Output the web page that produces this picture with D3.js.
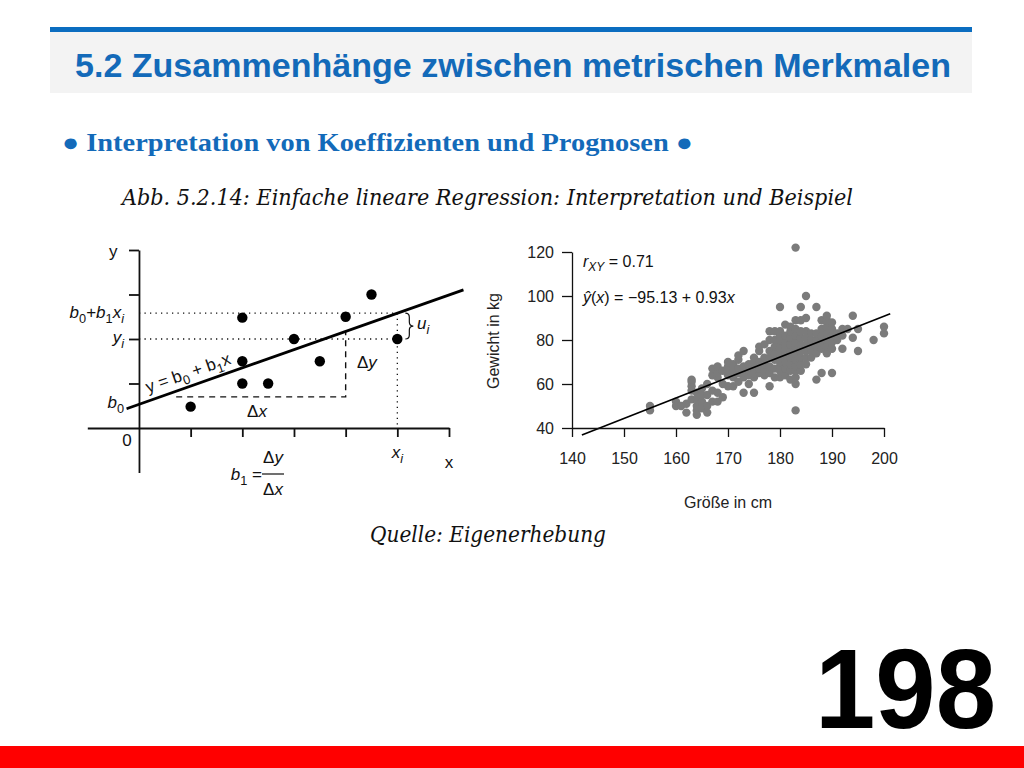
<!DOCTYPE html>
<html>
<head>
<meta charset="utf-8">
<script src="https://d3js.org/d3.v7.min.js"></script>
<style>
  body { margin: 0; background: #fff; }
  text { font-family: "Liberation Sans", Arial, sans-serif; }
</style>
</head>
<body>
<script>
// ---- texts ----
var titel = "5.2 Zusammenhänge zwischen metrischen Merkmalen";
var untertitel = "● Interpretation von Koeffizienten und Prognosen ●";
var abbildung = "Abb. 5.2.14: Einfache lineare Regression: Interpretation und Beispiel";
var quelle = "Quelle: Eigenerhebung";
var seite = "198";

// ---- left diagram (schematic) ----
var punkteX = [1, 2, 2.5, 2, 2, 3, 3.5, 4, 4.5, 5];
var punkteY = [0.48, 1, 1, 1.5, 2.48, 2, 1.5, 2.5, 3, 2];
var b0 = 0.53, b1 = 0.41;
var xi = 5, yi = 2;
var linieVon = -0.24, linieBis = 6.28;
var dreieckX = [0.72, 4], dreieckY = 0.7;
var xTicksL = [1, 2, 3, 4, 5, 6];
var yTicksL = [1, 2, 3, 4];

// ---- right diagram (Größe / Gewicht) ----
var groesse = [155,160,161,162,163,164,165,166,167,168,169,170,171,172,173,174,175,176,177,178,179,
               180,181,182,183,184,185,186,187,188,189,190,191,192,193,194,195,198,200];
var gewicht = [
  [48,50], [50,52], [50], [47,51], [53,57,59,61,62], [46,48,50,53,56], [49,52,55,58], [47,50,55,60],
  [52,57,64,67], [52,56,63,65,68], [54,60,66], [59,64,66,68,70], [59,63,66,69], [61,65,67,71,73],
  [56,63,65,68,75], [60,64,66,69], [56,63,65,67,70,72], [65,67,70,75,77], [64,66,69,72,78],
  [59,65,68,72,75,80,84], [63,67,71,74,77,80,84],
  [63,66,68,70,72,74,76,78,80,82,84,95], [64,67,70,73,76,79,82,87], [62,66,69,72,75,78,81,84,86],
  [48,60,63,66,68,71,74,77,79,82,85,89,122], [66,69,72,75,78,81,84,89,95], [69,72,75,78,81,84,90,100],
  [72,75,78,80,83], [62,74,77,80,83,95], [65,76,79,82,85,89], [74,77,80,83,86,89,91], [65,76,79,82,85,88],
  [80,83], [76,82,85], [85], [81,91], [75,85], [80], [83,86]
];
var achseX = [140, 150, 160, 170, 180, 190, 200];
var achseY = [40, 60, 80, 100, 120];
var achsenAbschnitt = -95.13, steigung = 0.93;
var regVon = 141.9, regBis = 201.2;

var svg = d3.select("body").append("svg").attr("width", 1024).attr("height", 768);

// header
svg.append("rect").attr("x", 50).attr("y", 27).attr("width", 922).attr("height", 5).attr("fill", "#0b6dc0");
svg.append("rect").attr("x", 50).attr("y", 32).attr("width", 922).attr("height", 61).attr("fill", "#f3f3f3");
svg.append("text").attr("x", 75).attr("y", 77).attr("font-size", 33).attr("font-weight", "bold")
  .attr("fill", "#136ab9").attr("textLength", 876).attr("lengthAdjust", "spacingAndGlyphs").text(titel);
svg.append("text").attr("x", 62).attr("y", 151).attr("font-size", 25).attr("font-weight", "bold")
  .style("font-family", "'Liberation Serif', 'Times New Roman', serif")
  .attr("fill", "#136ab9").attr("textLength", 631).attr("lengthAdjust", "spacingAndGlyphs").text(untertitel);
svg.append("text").attr("x", 122).attr("y", 205).attr("font-size", 22).attr("font-style", "italic")
  .style("font-family", "'DejaVu Serif', 'Liberation Serif', serif")
  .attr("fill", "#111").attr("textLength", 731).attr("lengthAdjust", "spacingAndGlyphs").text(abbildung);
svg.append("text").attr("x", 370).attr("y", 542).attr("font-size", 22).attr("font-style", "italic")
  .style("font-family", "'DejaVu Serif', 'Liberation Serif', serif")
  .attr("fill", "#111").attr("textLength", 236).attr("lengthAdjust", "spacingAndGlyphs").text(quelle);
svg.append("text").attr("x", 815).attr("y", 728).attr("font-size", 113).attr("font-weight", "bold")
  .attr("fill", "#000").attr("textLength", 181).attr("lengthAdjust", "spacingAndGlyphs").text(seite);
svg.append("rect").attr("x", 0).attr("y", 746).attr("width", 1024).attr("height", 22).attr("fill", "#ff0000");

// text with italic / subscript parts: [text, flags] flags: i = italic, s = subscript
function formel(parent, x, y, teile, anchor, size) {
  var t = parent.append("text").attr("x", x).attr("y", y).attr("text-anchor", anchor || "start")
    .attr("font-size", size).attr("fill", "#111");
  var tief = false;
  teile.forEach(function(p) {
    var s = t.append("tspan").text(p[0]);
    var f = p[1] || "";
    if (f.indexOf("i") >= 0) s.attr("font-style", "italic");
    if (f.indexOf("s") >= 0) {
      s.attr("font-size", size * 0.75);
      if (!tief) { s.attr("dy", size * 0.28); tief = true; }
    } else if (tief) { s.attr("dy", -size * 0.28); tief = false; }
  });
  return t;
}

// ---------- left diagram ----------
var xL = d3.scaleLinear().domain([-1, 6]).range([87.3, 449]);
var yL = d3.scaleLinear().domain([-1, 4]).range([472.5, 250]);
var gl = svg.append("g");

var axL = gl.append("g").attr("transform", "translate(0," + yL(0) + ")")
  .call(d3.axisBottom(xL).tickValues(xTicksL).tickSize(9).tickSizeOuter(0).tickFormat(""));
var ayL = gl.append("g").attr("transform", "translate(" + xL(0) + ",0)")
  .call(d3.axisLeft(yL).tickValues(yTicksL).tickSize(10).tickSizeOuter(0).tickFormat(""));
gl.selectAll(".domain, .tick line").attr("stroke", "#111").attr("stroke-width", 1.8);

// dotted guides
gl.append("line").attr("x1", xL(0)).attr("x2", xL(xi)).attr("y1", yL(yi)).attr("y2", yL(yi))
  .attr("stroke", "#111").attr("stroke-width", 1.3).attr("stroke-dasharray", "1.3,4.2");
gl.append("line").attr("x1", xL(0)).attr("x2", xL(xi)).attr("y1", yL(b0 + b1 * xi)).attr("y2", yL(b0 + b1 * xi))
  .attr("stroke", "#111").attr("stroke-width", 1.3).attr("stroke-dasharray", "1.3,4.2");
gl.append("line").attr("x1", xL(xi)).attr("x2", xL(xi)).attr("y1", yL(b0 + b1 * xi)).attr("y2", yL(0))
  .attr("stroke", "#111").attr("stroke-width", 1.3).attr("stroke-dasharray", "1.3,4.2");

// slope triangle (dashed)
gl.append("path")
  .attr("d", "M" + xL(dreieckX[0]) + "," + yL(dreieckY) + "H" + xL(dreieckX[1]) + "V" + yL(b0 + b1 * dreieckX[1]))
  .attr("fill", "none").attr("stroke", "#111").attr("stroke-width", 1.4).attr("stroke-dasharray", "6,5");

// regression line
gl.append("line").attr("x1", xL(linieVon)).attr("y1", yL(b0 + b1 * linieVon))
  .attr("x2", xL(linieBis)).attr("y2", yL(b0 + b1 * linieBis))
  .attr("stroke", "#000").attr("stroke-width", 2.8);

// points
gl.selectAll("circle.p").data(punkteX).enter().append("circle").attr("class", "p")
  .attr("cx", function(d) { return xL(d); })
  .attr("cy", function(d, i) { return yL(punkteY[i]); })
  .attr("r", 5.2).attr("fill", "#000");

// brace u_i
var bt = yL(b0 + b1 * xi), bb = yL(yi), bx = xL(xi) + 8, bm = (bt + bb) / 2;
gl.append("path")
  .attr("d", "M" + bx + "," + bt + " q4,0 4,4 V" + (bm - 4) + " q0,4 4,4 q-4,0 -4,4 V" + (bb - 4) + " q0,4 -4,4")
  .attr("fill", "none").attr("stroke", "#111").attr("stroke-width", 1.2);

// labels
var fs = 17;
formel(gl, xL(-0.5), 257, [["y"]], "middle", fs);
formel(gl, 124, 318, [["b", "i"], ["0", "s"], ["+"], ["b", "i"], ["1", "s"], ["x", "i"], ["i", "is"]], "end", fs);
formel(gl, 124, 343, [["y", "i"], ["i", "is"]], "end", fs);
formel(gl, 124, 408, [["b", "i"], ["0", "s"]], "end", fs);
formel(gl, 127, 446, [["0"]], "middle", fs);
formel(gl, xL(xi), 458, [["x", "i"], ["i", "is"]], "middle", fs);
formel(gl, xL(6), 468, [["x"]], "middle", fs);
formel(gl, 257, 417, [["Δ"], ["x", "i"]], "middle", fs);
formel(gl, 357, 368, [["Δ"], ["y", "i"]], "start", fs);
formel(gl, 417, 329, [["u", "i"], ["i", "is"]], "start", fs);
var rot = gl.append("g").attr("transform", "translate(148,393) rotate(-19.4)");
formel(rot, 0, 0, [["y = b"], ["0", "s"], [" + b"], ["1", "s"], ["x"]], "start", fs);
formel(gl, 262, 480, [["b", "i"], ["1", "s"], [" ="]], "end", fs);
formel(gl, 273, 463, [["Δ"], ["y", "i"]], "middle", fs);
formel(gl, 273, 495, [["Δ"], ["x", "i"]], "middle", fs);
gl.append("line").attr("x1", 262).attr("x2", 284).attr("y1", 474).attr("y2", 474)
  .attr("stroke", "#111").attr("stroke-width", 1.2);

// ---------- right diagram ----------
var xS = d3.scaleLinear().domain([140, 200]).range([572, 884]);
var yS = d3.scaleLinear().domain([40, 120]).range([428, 252]);
var gr = svg.append("g");

var punkte = [];
groesse.forEach(function(h, i) { gewicht[i].forEach(function(w) { punkte.push([h, w]); }); });

gr.selectAll("circle").data(punkte).enter().append("circle")
  .attr("cx", function(d) { return xS(d[0]); })
  .attr("cy", function(d) { return yS(d[1]); })
  .attr("r", 4.2).attr("fill", "#7b7b7b");

gr.append("line")
  .attr("x1", xS(regVon)).attr("y1", yS(achsenAbschnitt + steigung * regVon))
  .attr("x2", xS(regBis)).attr("y2", yS(achsenAbschnitt + steigung * regBis))
  .attr("stroke", "#000").attr("stroke-width", 1.6);

var axS = gr.append("g").attr("transform", "translate(0,428)")
  .call(d3.axisBottom(xS).tickValues(achseX).tickSize(9).tickSizeOuter(0).tickPadding(16));
var ayS = gr.append("g").attr("transform", "translate(572,0)")
  .call(d3.axisLeft(yS).tickValues(achseY).tickSize(10).tickSizeOuter(0).tickPadding(8));
gr.selectAll(".domain, .tick line").attr("stroke", "#111").attr("stroke-width", 1.3);
gr.selectAll(".tick text").attr("font-size", 16).attr("fill", "#222")
  .style("font-family", "'Liberation Sans', Arial, sans-serif");

gr.append("text").attr("x", 728).attr("y", 508).attr("text-anchor", "middle").attr("font-size", 16)
  .attr("fill", "#222").text("Größe in cm");
gr.append("text").attr("transform", "translate(499,341) rotate(-90)").attr("text-anchor", "middle")
  .attr("font-size", 16).attr("fill", "#222").text("Gewicht in kg");

formel(gr, 583, 267, [["r", "i"], ["XY", "is"], [" = 0.71"]], "start", 16);
formel(gr, 583, 303, [["ŷ", "i"], ["("], ["x", "i"], [") = −95.13 + 0.93"], ["x", "i"]], "start", 16);
</script>
</body>
</html>
